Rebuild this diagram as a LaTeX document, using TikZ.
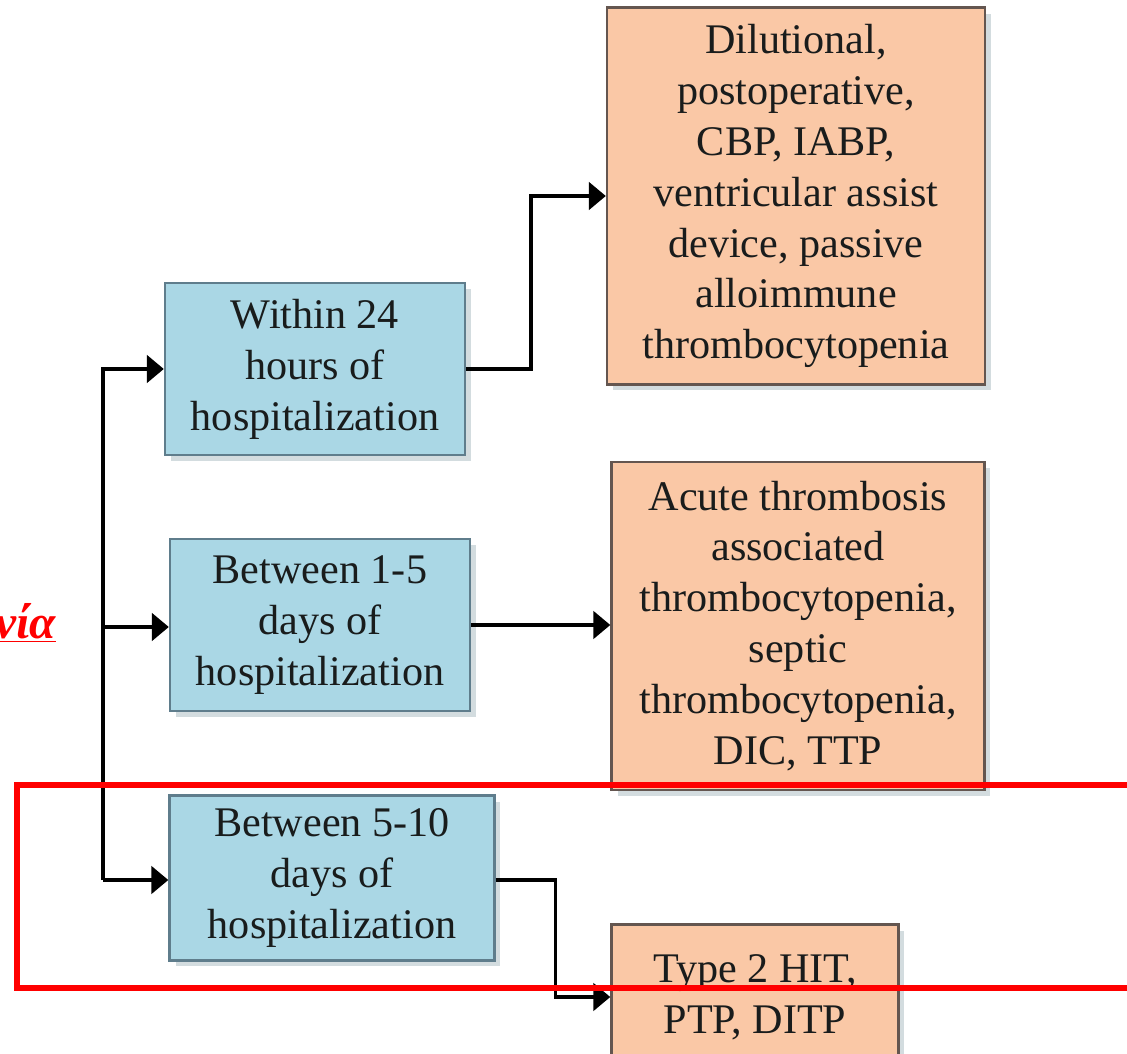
\documentclass[tikz,border=0pt]{standalone}
\usepackage{fontspec}
\setmainfont{Liberation Serif}
\newfontfamily\greekfont{Liberation Serif}
\usetikzlibrary{arrows.meta,positioning,shadows}
\definecolor{boxblue}{RGB}{170,215,229}
\definecolor{edgeblue}{RGB}{95,125,140}
\definecolor{boxorange}{RGB}{250,200,166}
\definecolor{edgebrown}{RGB}{100,86,80}
\definecolor{inkdark}{RGB}{25,28,28}

\begin{document}
\begin{tikzpicture}[x=0.02cm, y=-0.02cm,
    when/.style={draw=edgeblue, line width=1.4pt, fill=boxblue, minimum width=6cm, minimum height=3.44cm, align=center, text=inkdark, font=\fontsize{24}{29}\selectfont, drop shadow={shadow xshift=0.12cm, shadow yshift=-0.12cm, fill=edgeblue!45, opacity=0.6}},
    cause/.style={draw=edgebrown, line width=1.4pt, fill=boxorange, align=center, text=inkdark, font=\fontsize{24}{29}\selectfont, drop shadow={shadow xshift=0.12cm, shadow yshift=-0.12cm, fill=edgeblue!45, opacity=0.6}},
    arr/.style={-{Triangle[length=0.34cm,width=0.55cm]}, line width=2pt}
]
\useasboundingbox (0,0) rectangle (1127,1054);
\fill[white] (0,0) rectangle (1127,1054);

% time windows
\node[when] (b1) at (315,369) {Within 24\\hours of\\hospitalization};
\node[when] (b2) at (320,625) {Between 1-5\\days of\\hospitalization};
\node[when, minimum width=6.5cm, minimum height=3.3cm] (b3) at (332,878) {Between 5-10\\days of\\hospitalization};

% causes
\node[cause, minimum width=7.56cm, minimum height=7.54cm] (o1) at (796,196) {Dilutional,\\postoperative,\\CBP, IABP,\\ventricular assist\\device, passive\\alloimmune\\thrombocytopenia};
\node[cause, minimum width=7.46cm, minimum height=6.56cm] (o2) at (798,626) {Acute thrombosis\\associated\\thrombocytopenia,\\septic\\thrombocytopenia,\\DIC, TTP};
\node[cause, minimum width=5.74cm, minimum height=2.9cm] (o3) at (755,997) {Type 2 HIT,\\PTP, DITP};

% trunk
\coordinate (t1) at (103,368);
\coordinate (t2) at (103,627);
\coordinate (t3) at (103,880);

\draw[arr] (t3) |- (b1.west);
\draw[arr] (t2) -- (b2.west |- t2);
\draw[arr] (t3) -- (b3.west |- t3);

\draw[arr] (b1.east) -- ++(65,0) |- (o1.west);
\draw[arr] (b2.east) -- (o2.west |- b2.east);
\draw[arr] (b3.east |- t3) -- ++(60,0) |- (o3.west);

% highlight
\node[anchor=base east, text=red, font=\greekfont\bfseries\itshape\fontsize{27}{30}\selectfont, inner sep=0pt] (lbl) at (56,638) {\underline{νία}};
\draw[red, line width=3.3pt] (17,785) rectangle (1140,988);
\end{tikzpicture}
\end{document}
